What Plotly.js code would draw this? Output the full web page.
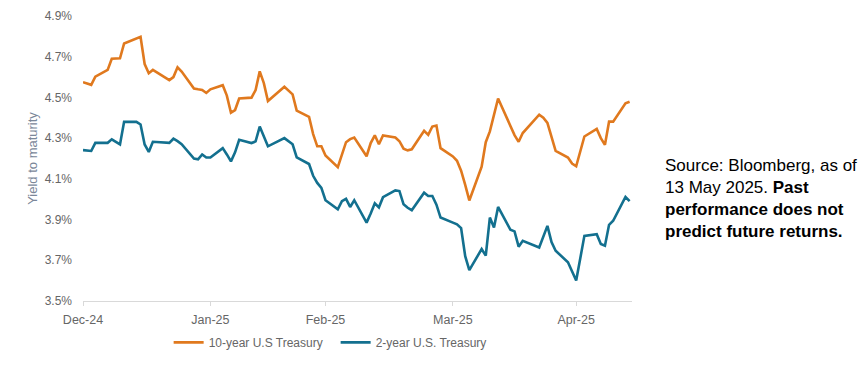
<!DOCTYPE html>
<html>
<head>
<meta charset="utf-8">
<script src="https://cdn.plot.ly/plotly-3.0.1.min.js"></script>
<style>html,body{margin:0;padding:0;background:#fff;}#chart{width:865px;height:369px;}</style>
</head>
<body>
<div id="chart"></div>
<script>
const dates = [
  "2024-12-31","2025-01-02","2025-01-03","2025-01-06","2025-01-07","2025-01-08","2025-01-09","2025-01-10",
  "2025-01-13","2025-01-14","2025-01-15","2025-01-16","2025-01-17","2025-01-21","2025-01-22","2025-01-23",
  "2025-01-24","2025-01-27","2025-01-28","2025-01-29","2025-01-30","2025-01-31","2025-02-03","2025-02-04",
  "2025-02-05","2025-02-06","2025-02-07","2025-02-10","2025-02-11","2025-02-12","2025-02-13","2025-02-14",
  "2025-02-18","2025-02-19","2025-02-20","2025-02-21","2025-02-24","2025-02-25","2025-02-26","2025-02-27",
  "2025-02-28","2025-03-03","2025-03-04","2025-03-05","2025-03-06","2025-03-07","2025-03-10","2025-03-11",
  "2025-03-12","2025-03-13","2025-03-14","2025-03-17","2025-03-18","2025-03-19","2025-03-20","2025-03-21",
  "2025-03-24","2025-03-25","2025-03-26","2025-03-27","2025-03-28","2025-03-31","2025-04-01","2025-04-02",
  "2025-04-03","2025-04-04","2025-04-07","2025-04-08","2025-04-09","2025-04-10","2025-04-11","2025-04-14",
  "2025-04-15","2025-04-16","2025-04-17","2025-04-21","2025-04-22","2025-04-23","2025-04-24","2025-04-25",
  "2025-04-28","2025-04-29","2025-04-30","2025-05-01","2025-05-02","2025-05-05","2025-05-06","2025-05-07",
  "2025-05-08","2025-05-09","2025-05-12","2025-05-13"
];
const tenYear = [
  4.575,4.562,4.602,4.635,4.690,4.690,4.692,4.765,
  4.788,4.798,4.664,4.619,4.635,4.585,4.600,4.648,
  4.627,4.544,4.540,4.537,4.522,4.540,4.560,4.509,
  4.425,4.438,4.495,4.499,4.536,4.628,4.570,4.482,
  4.552,4.535,4.515,4.435,4.405,4.320,4.260,4.260,
  4.215,4.157,4.220,4.280,4.295,4.303,4.211,4.276,
  4.314,4.270,4.313,4.303,4.285,4.248,4.240,4.245,
  4.336,4.316,4.357,4.362,4.251,4.210,4.189,4.140,
  4.070,3.994,4.160,4.280,4.333,4.410,4.495,4.360,
  4.315,4.282,4.325,4.415,4.400,4.375,4.300,4.237,
  4.205,4.175,4.162,4.240,4.308,4.345,4.300,4.267,
  4.381,4.381,4.471,4.479
];
const twoYear = [
  4.241,4.237,4.277,4.277,4.294,4.280,4.269,4.380,
  4.380,4.367,4.269,4.232,4.282,4.277,4.297,4.285,
  4.270,4.200,4.196,4.220,4.205,4.205,4.251,4.220,
  4.186,4.230,4.292,4.276,4.284,4.357,4.310,4.260,
  4.300,4.285,4.270,4.206,4.173,4.115,4.080,4.056,
  3.995,3.950,3.990,4.002,3.962,3.995,3.885,3.930,
  3.980,3.960,4.010,4.043,4.040,3.975,3.958,3.946,
  4.032,4.016,4.016,3.973,3.910,3.885,3.877,3.858,
  3.720,3.652,3.755,3.723,3.910,3.861,3.962,3.850,
  3.842,3.767,3.796,3.763,3.820,3.869,3.790,3.747,
  3.690,3.645,3.601,3.710,3.820,3.828,3.780,3.772,
  3.874,3.894,4.011,3.991
];
const seriesNames = ["10-year U.S Treasury", "2-year U.S. Treasury"];
const xTickVals = ["2024-12-31","2025-01-31","2025-02-28","2025-03-31","2025-04-30"];
const xTickText = ["Dec-24","Jan-25","Feb-25","Mar-25","Apr-25"];
const yTickVals = [3.5,3.7,3.9,4.1,4.3,4.5,4.7,4.9];
const yTickText = ["3.5%","3.7%","3.9%","4.1%","4.3%","4.5%","4.7%","4.9%"];
const yTitle = "Yield to maturity";
const noteText = "Source: Bloomberg, as of<br>13 May 2025. <b>Past</b><br><b>performance does not</b><br><b>predict future returns.</b>";

const FONT = "Liberation Sans, Arial, sans-serif";
const traces = [
  {x: dates, y: tenYear, type: "scatter", mode: "lines", name: seriesNames[0],
   line: {color: "#E0791E", width: 2.6}},
  {x: dates, y: twoYear, type: "scatter", mode: "lines", name: seriesNames[1],
   line: {color: "#13708F", width: 2.6}}
];
const layout = {
  width: 865, height: 369,
  margin: {l: 83, r: 233, t: 16, b: 64},
  paper_bgcolor: "#ffffff", plot_bgcolor: "#ffffff",
  font: {family: FONT, size: 12, color: "#666666"},
  showlegend: true,
  legend: {orientation: "h", x: 0.156, xanchor: "left", y: -0.145, yanchor: "middle",
           font: {family: FONT, size: 12, color: "#666666"},
           entrywidth: 122, entrywidthmode: "pixels", itemwidth: 30,
           bgcolor: "rgba(0,0,0,0)"},
  xaxis: {type: "date", range: ["2024-12-31", "2025-05-13 14:00"],
          tickmode: "array", tickvals: xTickVals, ticktext: xTickText,
          showgrid: false, zeroline: false, showline: true, linecolor: "#d9d9d9", linewidth: 1,
          ticks: "outside", ticklen: 4, tickcolor: "#d9d9d9",
          ticklabelstandoff: 3,
          tickfont: {family: FONT, size: 12.5, color: "#666666"}},
  yaxis: {range: [3.5, 4.9], tickmode: "array", tickvals: yTickVals, ticktext: yTickText,
          showgrid: false, zeroline: false, showline: false, ticks: "",
          ticklabelstandoff: 10,
          tickfont: {family: FONT, size: 12, color: "#666666"},
          title: {text: yTitle, standoff: 4, font: {family: FONT, size: 13, color: "#7b8799"}}},
  annotations: [{
    xref: "paper", yref: "paper", x: 1.0565, y: 0.358, xanchor: "left", yanchor: "middle",
    align: "left", showarrow: false, text: noteText,
    font: {family: FONT, size: 17, color: "#000000"}
  }]
};
Plotly.newPlot("chart", traces, layout, {displayModeBar: false, staticPlot: true});
</script>
</body>
</html>
